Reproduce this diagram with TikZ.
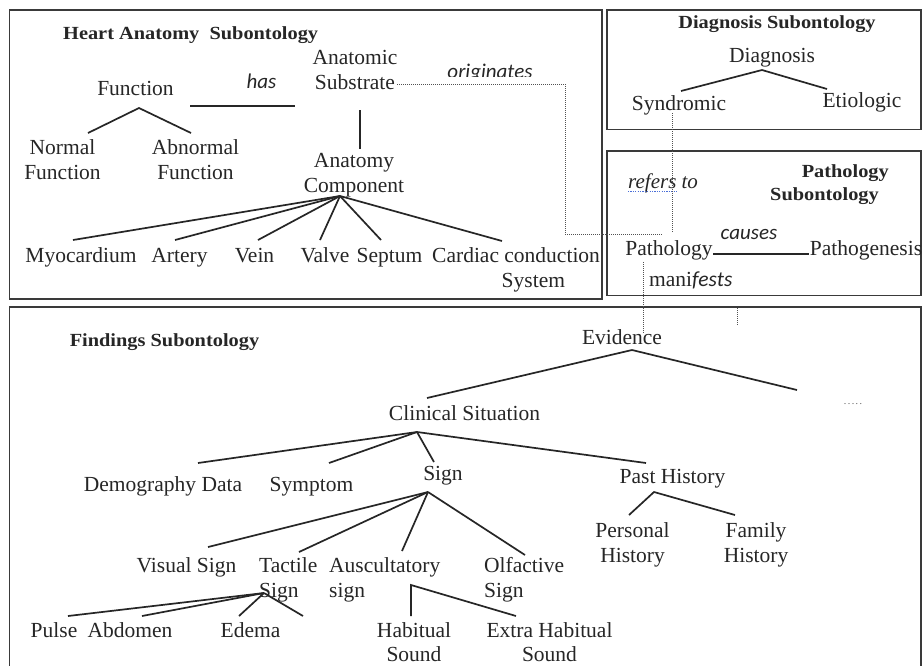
\documentclass[tikz,border=0pt]{standalone}
\usepackage{fontspec}
\setmainfont{Liberation Serif}
\newfontfamily\relfont{Carlito}
\newfontfamily\headfont[FakeStretch=1.1]{Liberation Serif}
\usetikzlibrary{calc}
\definecolor{ink}{HTML}{262626}
\definecolor{frame}{HTML}{3A3A3A}
\definecolor{spell}{HTML}{4A6FD8}

\tikzset{
  lbl/.style={inner sep=0pt, text=ink, align=center, font=\fontsize{21.5}{25.5}\selectfont},
  lblL/.style={lbl, align=left},
  head/.style={inner sep=0pt, text=ink, font=\headfont\bfseries\fontsize{18.5}{23}\selectfont},
  rel/.style={inner sep=0pt, text=ink, font=\relfont\itshape\fontsize{21}{25}\selectfont},
  relserif/.style={inner sep=0pt, text=ink, font=\itshape\fontsize{21}{25}\selectfont},
  branch/.style={draw=ink, line width=1.7pt},
  link/.style={draw=ink!80, line width=0.9pt, dash pattern=on 1pt off 1pt},
  panel/.style={draw=frame, line width=1.8pt},
  ellip/.style={inner sep=0pt, text=ink!75, font=\fontsize{10}{10}\selectfont},
}

% multi-line labels are placed by the baseline of their last line
\begin{document}
\begin{tikzpicture}[x=1pt,y=-1pt]
\clip (0,0) rectangle (923,665);
\fill[white] (0,0) rectangle (923,665);

% ---------- panels ----------
\draw[panel] (9.5,10) rectangle (602,299);
\draw[panel] (607,10) rectangle (921,129.5);
\draw[panel] (607,151) rectangle (921,295.5);
\draw[panel] (9.5,307) rectangle (921,680);

% ---------- heart anatomy ----------
\node[head, anchor=base west] (hatitle) at (63,39.5) {Heart Anatomy\ \ Subontology};
\node[lbl, anchor=base] (func) at (135.5,95) {Function};
\node[lbl, anchor=base] (normal) at (62.5,179.5) {Normal\\Function};
\node[lbl, anchor=base] (abnormal) at (195.5,179.5) {Abnormal\\Function};
\node[rel, anchor=base] (has) at (261.5,88) {has};
\node[lbl, anchor=base] (sub) at (355,89.5) {Anatomic\\Substrate};
\node[lbl, anchor=base] (comp) at (354,192.5) {Anatomy\\Component};
\node[lbl, anchor=base] (myo) at (81,262) {Myocardium};
\node[lbl, anchor=base] (artery) at (179.5,262) {Artery};
\node[lbl, anchor=base] (vein) at (254.5,262) {Vein};
\node[lbl, anchor=base] (valve) at (325,262) {Valve};
\node[lbl, anchor=base] (septum) at (389.5,262) {Septum};
\node[lblL, anchor=base west] (cardiac) at (432,287.5) {Cardiac conduction\\\hspace*{69.5pt}System};

\begin{scope}
  \clip (430,50) rectangle (545,76.5);
  \node[rel, anchor=base] (orig) at (490,78) {originates};
\end{scope}

\draw[branch] ($(normal.base)+(25.5,-46.5)$) -- ($(func.base)+(3.5,13)$) -- ($(abnormal.base)+(-4.5,-46.5)$);
\draw[branch] ($(func.base)+(54.5,11)$) -- ($(sub.base)+(-60,16.5)$);
\draw[branch] ($(sub.base)+(5,20.5)$) -- ($(comp.base)+(6,-43.5)$);
\foreach \n/\dx in {myo/-8, artery/-4.5, vein/3.5, valve/-5, septum/-8.5}
  \draw[branch] ($(comp.base)+(-14,3.5)$) -- ($(\n.base)+(\dx,-22)$);
\draw[branch] ($(comp.base)+(-14,3.5)$) -- ($(cardiac.base west)+(70,-46.5)$);

% ---------- diagnosis ----------
\node[head, anchor=base] (dgtitle) at (777,28) {Diagnosis Subontology};
\node[lbl, anchor=base] (diag) at (772,62) {Diagnosis};
\node[lbl, anchor=base] (synd) at (679,110) {Syndromic};
\node[lbl, anchor=base] (etio) at (862,107) {Etiologic};
\draw[branch] ($(synd.base)+(2,-19)$) -- ($(diag.base)+(-10,8)$) -- ($(etio.base)+(-35,-18)$);

% ---------- pathology ----------
\node[head, align=right, anchor=base east] (pttitle) at (889,200) {Pathology\\Subontology\hspace*{10pt}};
\node[relserif, anchor=base west] (refers) at (628,188) {refers to};
\draw[spell, line width=0.8pt, dash pattern=on 1.2pt off 1.2pt] ($(refers.base west)+(0,3.5)$) -- ++(49,0);
\node[lbl, anchor=base] (path) at (669,255) {Pathology};
\node[lbl, anchor=base] (pgen) at (866,255) {Pathogenesis};
\node[rel, anchor=base] (causes) at (749,239) {causes};
\node[lbl, anchor=base west] (manif) at (649,286) {mani{\relfont\itshape fests}};
\draw[branch, line width=1.5pt] ($(path.base)+(44,-1)$) -- ($(pgen.base)+(-57,-1)$);

% ---------- findings ----------
\node[head, anchor=base] (fdtitle) at (164.5,346) {Findings Subontology};
\node[lbl, anchor=base] (evid) at (622,344) {Evidence};
\node[ellip, anchor=base] (more) at (853,404.5) {.\kern1.4pt.\kern1.4pt.\kern1.4pt.\kern1.4pt.};
\node[lbl, anchor=base] (clin) at (464.5,420) {Clinical Situation};
\node[lbl, anchor=base] (demo) at (163,491) {Demography Data};
\node[lbl, anchor=base] (symp) at (311.5,491) {Symptom};
\node[lbl, anchor=base] (sign) at (443,480) {Sign};
\node[lbl, anchor=base] (past) at (672.5,483) {Past History};
\node[lbl, anchor=base] (visual) at (186.5,572) {Visual Sign};
\node[lblL, anchor=base west] (tact) at (259,597.5) {Tactile\\Sign};
\node[lblL, anchor=base west] (ausc) at (329,597.5) {Auscultatory\\sign};
\node[lblL, anchor=base west] (olf) at (484,597.5) {Olfactive\\Sign};
\node[lbl, anchor=base] (pers) at (632.5,562.5) {Personal\\History};
\node[lbl, anchor=base] (fam) at (756,562.5) {Family\\History};
\node[lbl, anchor=base] (pulse) at (54,637) {Pulse};
\node[lbl, anchor=base] (abd) at (130,637) {Abdomen};
\node[lbl, anchor=base] (edema) at (250.5,637) {Edema};
\node[lbl, anchor=base, font=\fontsize{21.5}{24}\selectfont] (hab) at (414,661) {Habitual\\Sound};
\node[lbl, anchor=base, font=\fontsize{21.5}{24}\selectfont] (extra) at (549.5,661) {Extra Habitual\\Sound};
\coordinate (tacR) at (303,616);

\draw[branch] ($(clin.base)+(-37.5,-22)$) -- ($(evid.base)+(10,6)$) -- ($(more.base)+(-56,-14.5)$);
\foreach \n/\dx/\dy in {demo/35/-28, symp/17.5/-28, sign/-9/-18, past/-26.5/-20}
  \draw[branch] ($(clin.base)+(-47.5,12)$) -- ($(\n.base)+(\dx,\dy)$);
\draw[branch] ($(sign.base)+(-15,12)$) -- ($(visual.base)+(21.5,-25)$);
\draw[branch] ($(sign.base)+(-15,12)$) -- ($(tact.base west)+(40,-45.5)$);
\draw[branch] ($(sign.base)+(-15,12)$) -- ($(ausc.base west)+(73,-46.5)$);
\draw[branch] ($(sign.base)+(-15,12)$) -- ($(olf.base west)+(41,-42.5)$);
\draw[branch] ($(pers.base)+(-3.5,-47.5)$) -- ($(past.base)+(-18.5,9)$) -- ($(fam.base)+(-21,-47.5)$);
\foreach \n/\dx in {pulse/14, abd/12, edema/-11.5}
  \draw[branch] ($(tact.base west)+(5,-4.5)$) -- ($(\n.base)+(\dx,-21)$);
\draw[branch] ($(tact.base west)+(5,-4.5)$) -- (tacR);
\draw[branch] ($(hab.base)+(-3,-45)$) -- ($(ausc.base west)+(82,-12.5)$) -- ($(extra.base)+(-33.5,-45)$);

% ---------- cross-panel relations ----------
\draw[link] ($(sub.base)+(42,-5.5)$) -| ($(path.base)+(-104,-21)$) -- ($(path.base)+(-6,-21)$);
\draw[link] ($(synd.base)+(-7,3)$) -- ($(path.base)+(3,-23)$);
\draw[link] ($(path.base)+(-26,7)$) -- ($(evid.base)+(21,-11)$);
\coordinate (tickA) at (737,308);
\coordinate (tickB) at (737,326);
\draw[link] (tickA) -- (tickB);
\end{tikzpicture}
\end{document}
